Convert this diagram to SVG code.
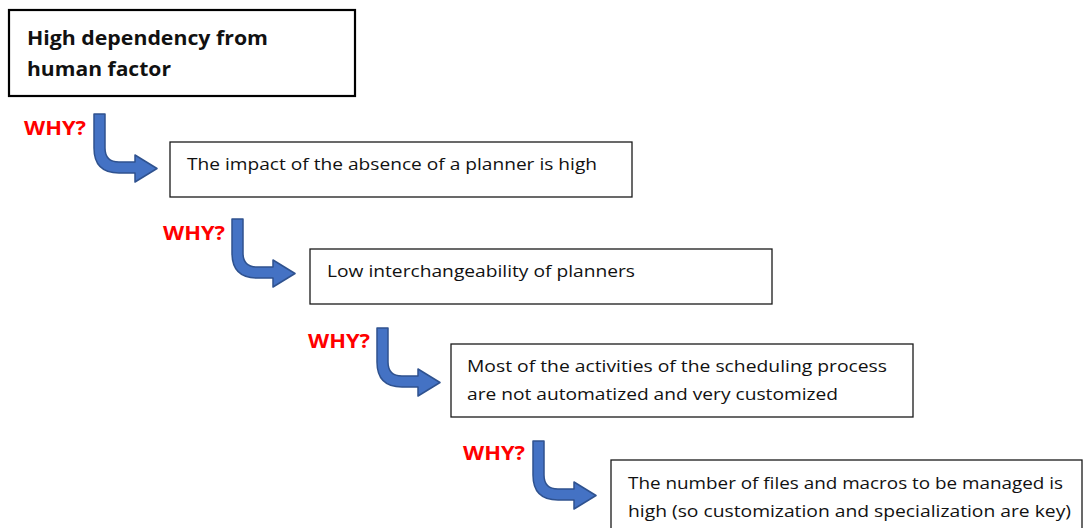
<svg xmlns="http://www.w3.org/2000/svg" xmlns:xlink="http://www.w3.org/1999/xlink" width="1084" height="528" viewBox="0 0 1084 528">
<style>
.box{fill:#fff;stroke:#1a1a1a;stroke-width:1.3}
.main{fill:#fff;stroke:#000;stroke-width:2.2}
.t{font-family:"Open Sans","Liberation Sans",Arial,sans-serif;font-size:17px;fill:#111}
.tb{font-family:"Open Sans","Liberation Sans",Arial,sans-serif;font-size:20px;font-weight:bold;fill:#111}
.why{font-family:"Open Sans","Liberation Sans",Arial,sans-serif;font-size:19px;font-weight:bold;fill:#ff0000}
.arr{fill:#4472C4;stroke:#2F528F;stroke-width:1.5;stroke-linejoin:round}
</style>
<defs>
<path id="bent" d="M0,0 H11 V34 Q11,48 25,48 H41 V41 L63,54.5 L41,68 V59 H25 Q0,59 0,34 Z"/>
</defs>
<g id="n1">
<rect class="main" x="9" y="10" width="346" height="86"/>
<text class="tb" x="27" y="45" textLength="241" lengthAdjust="spacingAndGlyphs">High dependency from</text>
<text class="tb" x="27" y="76" textLength="144" lengthAdjust="spacingAndGlyphs">human factor</text>
</g>
<g id="n2">
<rect class="box" x="170" y="142" width="462" height="55"/>
<text class="t" x="187" y="170" textLength="410" lengthAdjust="spacingAndGlyphs">The impact of the absence of a planner is high</text>
</g>
<g id="n3">
<rect class="box" x="310" y="249" width="462" height="55"/>
<text class="t" x="327" y="277" textLength="308" lengthAdjust="spacingAndGlyphs">Low interchangeability of planners</text>
</g>
<g id="n4">
<rect class="box" x="451" y="344" width="462" height="73"/>
<text class="t" x="467" y="372" textLength="420" lengthAdjust="spacingAndGlyphs">Most of the activities of the scheduling process</text>
<text class="t" x="467" y="400" textLength="371" lengthAdjust="spacingAndGlyphs">are not automatized and very customized</text>
</g>
<g id="n5">
<rect class="box" x="611" y="460" width="471" height="80"/>
<text class="t" x="628" y="489" textLength="435" lengthAdjust="spacingAndGlyphs">The number of files and macros to be managed is</text>
<text class="t" x="628" y="517" textLength="443" lengthAdjust="spacingAndGlyphs">high (so customization and specialization are key)</text>
</g>
<g id="connectors">
<use xlink:href="#bent" class="arr" transform="translate(94,114)"/>
<use xlink:href="#bent" class="arr" transform="translate(232,219)"/>
<use xlink:href="#bent" class="arr" transform="translate(377,328)"/>
<use xlink:href="#bent" class="arr" transform="translate(533,441)"/>
<text class="why" x="24" y="135" textLength="62" lengthAdjust="spacingAndGlyphs">WHY?</text>
<text class="why" x="163" y="240" textLength="62" lengthAdjust="spacingAndGlyphs">WHY?</text>
<text class="why" x="308" y="348" textLength="62" lengthAdjust="spacingAndGlyphs">WHY?</text>
<text class="why" x="463" y="460" textLength="62" lengthAdjust="spacingAndGlyphs">WHY?</text>
</g>
</svg>
